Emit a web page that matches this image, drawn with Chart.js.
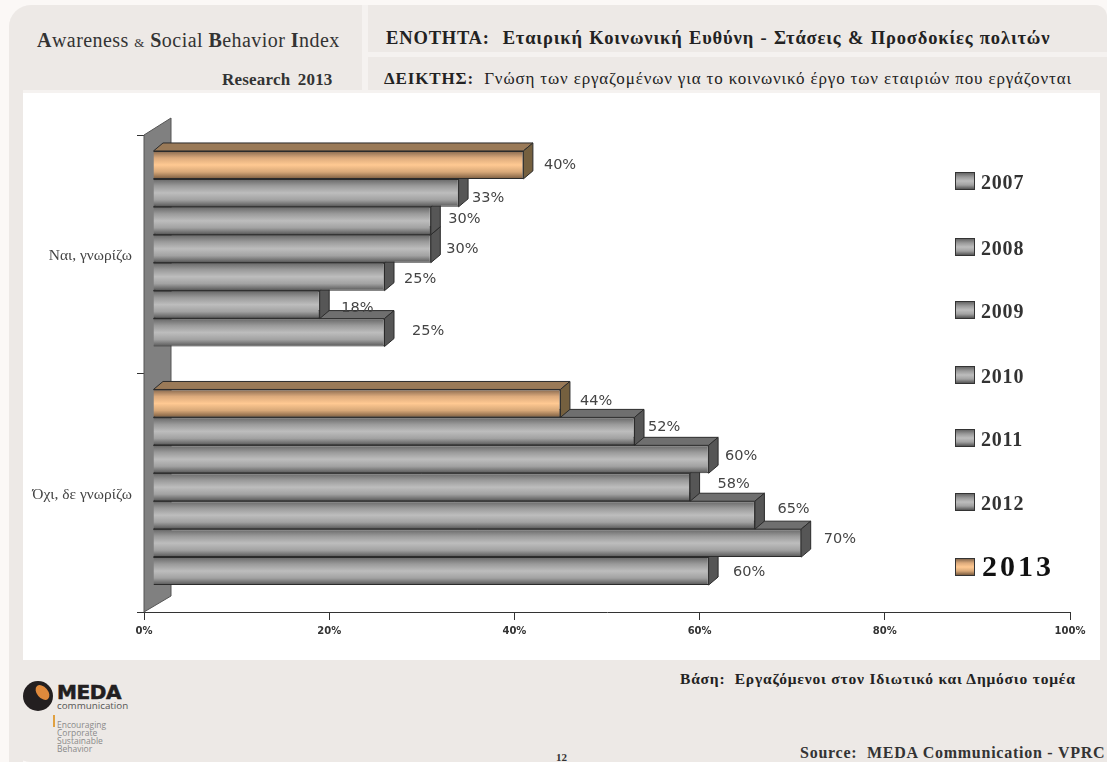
<!DOCTYPE html>
<html lang="el">
<head>
<meta charset="utf-8">
<title>Awareness & Social Behavior Index</title>
<script src="https://cdn.jsdelivr.net/npm/chart.js@4"></script>
<style>
  html, body { margin: 0; padding: 0; background: #fbf8f6; }
  #page { position: relative; width: 1107px; height: 762px; overflow: hidden; font-family: "Liberation Serif", serif; color: #222; }
  .panel { position: absolute; background: #ede9e6; }
  .txt { position: absolute; white-space: nowrap; line-height: 1; }
  canvas { position: absolute; left: 0; top: 0; }
  .swatch { position: absolute; left: 955px; width: 20px; height: 18px; border: 1px solid #333; box-sizing: border-box; }
  .logo { position: absolute; left: 23px; top: 681px; width: 30px; height: 30px; border-radius: 50%; background: #231f20; overflow: hidden; }
  .logo i { position: absolute; left: 14px; top: 3px; width: 11px; height: 17px; border-radius: 50%; background: #e08a3c; transform: rotate(-40deg); }
</style>
</head>
<body>
<div id="page">
  <div class="panel" style="left:9px;top:5px;width:1098px;height:757px;border-radius:22px 12px 0 22px;background:#f5f2f0"></div>
  <div class="panel" style="left:9px;top:5px;width:353px;height:85px;border-top-left-radius:22px"></div>
  <div class="panel" style="left:368px;top:5px;width:739px;height:47px;border-top-right-radius:12px"></div>
  <div class="panel" style="left:368px;top:57px;width:739px;height:33px"></div>
  <div class="panel" style="left:9px;top:90px;width:14px;height:672px"></div>
  <div class="panel" style="left:1100px;top:90px;width:7px;height:672px"></div>
  <div class="panel" style="left:9px;top:660px;width:1098px;height:102px;border-bottom-left-radius:22px"></div>
  <div class="panel" style="left:23px;top:93px;width:1077px;height:567px;background:#fff"></div>

  <div class="txt" style="left:37px;top:30px;font-size:20px;letter-spacing:.45px;color:#333"><b>A</b>wareness <span style="font-size:13px">&amp;</span> <b>S</b>ocial <b>B</b>ehavior <b>I</b>ndex</div>
  <div class="txt" style="left:222px;top:71px;font-size:17px;font-weight:bold;color:#333;word-spacing:3px;letter-spacing:.2px">Research 2013</div>
  <div class="txt" style="left:386px;top:29px;font-size:18.5px;font-weight:bold;letter-spacing:.85px;color:#222;word-spacing:1px">ΕΝΟΤΗΤΑ:&nbsp; Εταιρική Κοινωνική Ευθύνη - Στάσεις &amp; Προσδοκίες πολιτών</div>
  <div class="txt" style="left:384px;top:70px;font-size:17px;color:#222;letter-spacing:.85px"><b>ΔΕΙΚΤΗΣ:</b>&nbsp; Γνώση των εργαζομένων για το κοινωνικό έργο των εταιριών που εργάζονται</div>

  <div class="logo"><i></i></div>
  <div class="txt" style="left:57px;top:682px;font-family:'DejaVu Sans',sans-serif;font-size:20px;font-weight:bold;color:#231f20;letter-spacing:-.4px;-webkit-text-stroke:.6px #231f20">MEDA</div>
  <div class="txt" style="left:57px;top:701px;font-family:'Open Sans',sans-serif;font-size:9.8px;color:#555">communication</div>
  <div style="position:absolute;left:53px;top:715px;width:2px;height:12px;background:#e0a040"></div>
  <div class="txt" style="left:57px;top:721px;font-family:'Open Sans',sans-serif;font-size:8.5px;line-height:8px;color:#8a8a8a;white-space:pre-line">Encouraging
Corporate
Sustainable
Behavior</div>

  <div class="txt" style="left:680px;top:671px;font-size:15.5px;font-weight:bold;letter-spacing:.8px">Βάση:&nbsp; Εργαζόμενοι στον Ιδιωτικό και Δημόσιο τομέα</div>
  <div class="txt" style="left:800px;top:745px;font-size:16px;font-weight:bold;letter-spacing:.75px;color:#333">Source:&nbsp; MEDA Communication - VPRC</div>
  <div class="txt" style="left:556px;top:752px;font-size:11px;font-weight:bold;color:#333">12</div>

  <canvas id="chart" width="1107" height="762"></canvas>
  <div id="legend"></div>
</div>

<script>
const categories = ['Ναι, γνωρίζω', 'Όχι, δε γνωρίζω'];
const years = ['2007', '2008', '2009', '2010', '2011', '2012', '2013'];
const yesValues = [25, 18, 25, 30, 30, 33, 40];
const noValues = [60, 70, 65, 58, 60, 52, 44];
const xTicks = [0, 20, 40, 60, 80, 100];

// labels were placed by hand in the original, so they don't sit at a fixed gap
const NUDGE_X = [[18, 15], [12, 13], [10, 13], [6, 18], [8, 7], [4, 4], [11, 10]];
const NUDGE_Y = [[-1, 1], [4, -4], [3, -6], [0, -3], [-2, -3], [5, -4], [0, -2]];

const LEGEND_Y = [180, 246, 309, 374, 437, 501, 566];

const DEPTH_X = 9.5;
const DEPTH_Y = 8;
const SHIFT_X = 9;
const SHIFT_Y = -5.5;

const GREY = { stops: ['#666', '#9a9a9a', '#bdbdbd', '#a2a2a2', '#555'], top: '#6f6f6f', side: '#565656' };
const ORANGE = { stops: ['#86684e', '#dcaa7c', '#ffc992', '#d8a878', '#7a5c40'], top: '#9a7a58', side: '#75603f' };
const palette = (i) => (years[i] === '2013' ? ORANGE : GREY);

function faceGradient(ctx, top, bottom, stops) {
  const g = ctx.createLinearGradient(0, top, 0, bottom);
  stops.forEach((c, i) => g.addColorStop(i / (stops.length - 1), c));
  return g;
}

const bars3d = {
  id: 'bars3d',
  afterDatasetsUpdate(chart) {
    // every bar gets its own vertical gradient, once the scales have placed it
    chart.data.datasets.forEach((ds, di) => {
      chart.getDatasetMeta(di).data.forEach((el) => {
        const top = el.y - el.height / 2;
        el.options = Object.assign({}, el.options, {
          backgroundColor: faceGradient(chart.ctx, top, top + el.height, palette(years.length - 1 - di).stops),
        });
      });
    });
  },
  beforeDatasetsDraw(chart) {
    const { ctx, chartArea: a } = chart;
    // side wall behind the bars
    ctx.save();
    ctx.fillStyle = '#808080';
    ctx.strokeStyle = '#555';
    ctx.beginPath();
    ctx.moveTo(a.left, a.top);
    ctx.lineTo(a.left + 27, a.top - 17);
    ctx.lineTo(a.left + 27, a.bottom - 16);
    ctx.lineTo(a.left, a.bottom);
    ctx.closePath();
    ctx.fill();
    ctx.stroke();
    ctx.translate(SHIFT_X, SHIFT_Y);
    // bottom bar first, each bar's front then covers the top face of the one below
    for (let di = chart.data.datasets.length - 1; di >= 0; di--) {
      const p = palette(years.length - 1 - di);
      chart.getDatasetMeta(di).data.forEach((el) => {
        const top = el.y - el.height / 2;
        const bottom = el.y + el.height / 2;
        ctx.strokeStyle = '#2b2b2b';
        ctx.lineWidth = 1;
        ctx.fillStyle = p.top;
        ctx.beginPath();
        ctx.moveTo(el.base, top);
        ctx.lineTo(el.base + DEPTH_X, top - DEPTH_Y);
        ctx.lineTo(el.x + DEPTH_X, top - DEPTH_Y);
        ctx.lineTo(el.x, top);
        ctx.closePath();
        ctx.fill();
        ctx.stroke();
        ctx.fillStyle = p.side;
        ctx.beginPath();
        ctx.moveTo(el.x, top);
        ctx.lineTo(el.x + DEPTH_X, top - DEPTH_Y);
        ctx.lineTo(el.x + DEPTH_X, bottom - DEPTH_Y);
        ctx.lineTo(el.x, bottom);
        ctx.closePath();
        ctx.fill();
        ctx.stroke();
      });
    }
  },
  afterDatasetsDraw(chart) {
    const { ctx } = chart;
    ctx.restore();
    ctx.save();
    ctx.font = '14.5px "DejaVu Sans"';
    ctx.fillStyle = '#444';
    ctx.textBaseline = 'middle';
    chart.data.datasets.forEach((ds, di) => {
      const yi = years.length - 1 - di;
      chart.getDatasetMeta(di).data.forEach((el, ci) => {
        const x = el.x + SHIFT_X + DEPTH_X + NUDGE_X[yi][ci];
        const y = el.y + SHIFT_Y + NUDGE_Y[yi][ci];
        ctx.fillText(ds.data[ci] + '%', x, y);
      });
    });
    ctx.restore();
  },
};

// 2013 goes first so that it ends up on top inside each group
const datasets = years.map((year, i) => ({
  label: year,
  data: [yesValues[i], noValues[i]],
  backgroundColor: palette(i).stops[2],
  borderColor: '#2b2b2b',
  borderWidth: 1,
  clip: false,
})).reverse();

new Chart(document.getElementById('chart'), {
  type: 'bar',
  data: { labels: categories, datasets },
  plugins: [bars3d],
  options: {
    indexAxis: 'y',
    responsive: false,
    animation: false,
    categoryPercentage: 0.82,
    barPercentage: 1,
    layout: { padding: { top: 135, right: 37, left: 0, bottom: 0 } },
    plugins: { legend: { display: false }, tooltip: { enabled: false } },
    scales: {
      x: {
        min: xTicks[0],
        max: xTicks[xTicks.length - 1],
        afterFit: (s) => { s.height = 150; },
        afterBuildTicks: (s) => { s.ticks = xTicks.map((value) => ({ value })); },
        grid: { drawOnChartArea: false, tickLength: 8, color: '#333' },
        border: { color: '#333' },
        ticks: {
          padding: 5,
          maxRotation: 0,
          color: '#333',
          font: { family: 'DejaVu Sans', size: 10, weight: 'bold' },
          callback: (v) => v + '%',
        },
      },
      y: {
        afterFit: (s) => { s.width = 144; },
        grid: { drawOnChartArea: false, tickLength: 7, color: '#333' },
        border: { display: false },
        ticks: { padding: 5, labelOffset: 2, color: '#444', font: { family: 'Liberation Serif', size: 15.5 } },
      },
    },
  },
});

const legend = document.getElementById('legend');
years.forEach((year, i) => {
  const big = year === '2013';
  const p = palette(i);
  const sw = document.createElement('div');
  sw.className = 'swatch';
  sw.style.top = LEGEND_Y[i] - 8 + 'px';
  sw.style.background = 'linear-gradient(' + p.stops.join(',') + ')';
  legend.appendChild(sw);
  const t = document.createElement('div');
  t.className = 'txt';
  t.textContent = year;
  t.style.cssText += big
    ? 'left:982px;font-size:30px;letter-spacing:3px;font-weight:bold;color:#111;'
    : 'left:981px;font-size:20px;letter-spacing:.8px;font-weight:bold;color:#333;';
  t.style.top = LEGEND_Y[i] - (big ? 15 : 8) + 'px';
  legend.appendChild(t);
});
</script>
</body>
</html>
